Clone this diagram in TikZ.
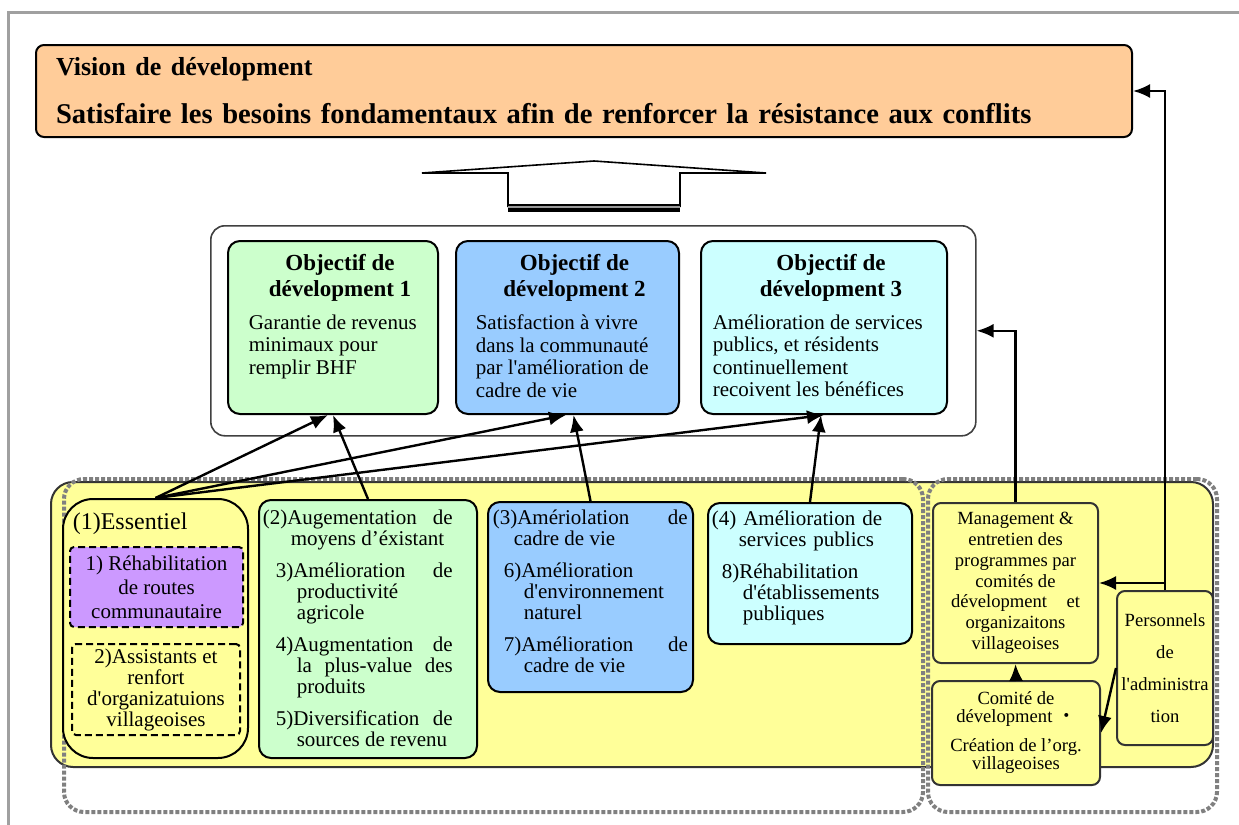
\documentclass[tikz,border=0pt]{standalone}
\usepackage{fontspec}
\setmainfont{Liberation Serif}[Ligatures=TeXOff]
\newfontfamily\cjkfont{Noto Sans CJK JP}
\usetikzlibrary{positioning,arrows.meta}

\definecolor{visionorange}{HTML}{FFCC99}
\definecolor{objgreen}{HTML}{CCFFCC}
\definecolor{objblue}{HTML}{99CCFF}
\definecolor{objcyan}{HTML}{CCFFFF}
\definecolor{baseyellow}{HTML}{FFFF99}
\definecolor{roadpurple}{HTML}{CC99FF}
\definecolor{dotgray}{HTML}{808080}
\definecolor{framegray}{HTML}{A0A0A0}

% one paragraph of a list: left skip, hanging indent, text
\newcommand{\hangitem}[3]{{\leftskip=#1\hangindent=#2\hangafter=1\noindent #3\par}}

\begin{document}
\begin{tikzpicture}[x=0.5pt, y=-0.5pt, thick,
    >={Latex[length=8.5pt,width=7pt]},
    link/.style={->, line width=1.2pt},
    dotframe/.style={draw=dotgray, line width=2pt, dash pattern=on 2pt off 1pt,
      rounded corners=10pt, anchor=north west, inner sep=0pt,
      minimum height=166.5pt},
    dashbox/.style={draw, line width=1pt, dash pattern=on 3.5pt off 2pt,
      rounded corners=2pt, anchor=north west, inner sep=0pt, align=center}]

    % `objbox' is used by every coloured box.
    % `objtitle' and `objbody' are the texts of the three objectives.
    % `itemtext' is used for the numbered lists at the bottom.
    \tikzstyle{objbox} = [draw, line width=1pt, rounded corners=6pt, anchor=north west, inner sep=0pt]
    \tikzstyle{objtitle} = [font=\bfseries\fontsize{11.5}{13}\selectfont, align=center, inner sep=0pt]
    \tikzstyle{objbody} = [font=\fontsize{10.5}{11.25}\selectfont, align=left, inner sep=0pt]
    \tikzstyle{itemtext} = [font=\fontsize{10.5}{10.5}\selectfont, inner sep=0pt, align=justify,
      execute at begin node={\setlength\parskip{5.5pt}\tolerance=10000\hbadness=10000}]
    \tikzstyle{smalltext} = [font=\fontsize{9.3}{10.4}\selectfont, align=center]
    %
    \useasboundingbox (0,0) rectangle (1239,825);
    \draw[framegray, line width=1.5pt] (8,825) -- (8,12) -- (1239,12);

    % Vision.
    \node[objbox, fill=visionorange, rounded corners=4pt, minimum width=548pt, minimum height=46pt,
      text width=528pt, inner xsep=10pt, align=left,
      font=\bfseries\fontsize{14.3}{16}\selectfont] (vision) at (35,44)
      {{\fontsize{13}{16}\selectfont Vision de dévelopment}\\[8pt]Satisfaire les besoins fondamentaux afin de renforcer la résistance aux conflits};

    % Big hollow arrow.
    \draw[line width=0.8pt, fill=white] (508,207) -- (508,173) -- (422,173) -- (594,161)
      -- (766,173) -- (680,173) -- (680,207);
    \draw[line width=4pt] (508,207.5) -- (680,207.5);
    \draw[black!40, line width=0.7pt] (508,207) -- (680,207);

    % Objectives.
    \node[objbox, draw=black!75, line width=0.8pt, rounded corners=7pt, fill=white,
      minimum width=382.5pt, minimum height=105pt] (objs) at (210,225) {};
    \node[objbox, fill=objgreen, minimum width=105pt, minimum height=86.5pt] (obj1) at (227,240) {};
    \node[objbox, fill=objblue, minimum width=111.5pt, minimum height=86.5pt] (obj2) at (455,240) {};
    \node[objbox, fill=objcyan, minimum width=123pt, minimum height=86.5pt] (obj3) at (700,240) {};
    \node[objtitle, below=7pt of obj1.north, xshift=3.5pt] (obj1title) {Objectif de\\dévelopment 1};
    \node[objtitle, below=7pt of obj2.north, xshift=3.5pt] (obj2title) {Objectif de\\dévelopment 2};
    \node[objtitle, below=7pt of obj3.north, xshift=3.5pt] (obj3title) {Objectif de\\dévelopment 3};
    \node[objbody, below right=37pt and 10.5pt of obj1.north west] (obj1body)
      {Garantie de revenus\\minimaux pour\\remplir BHF};
    \node[objbody, below right=37pt and 10pt of obj2.north west] (obj2body)
      {Satisfaction à vivre\\dans la communauté\\par l'amélioration de\\cadre de vie};
    \node[objbody, below right=37pt and 6pt of obj3.north west] (obj3body)
      {Amélioration de services\\publics, et résidents\\continuellement\\recoivent les bénéfices};

    % Programmes.
    \node[objbox, draw=black!80, rounded corners=11pt, fill=baseyellow,
      minimum width=581pt, minimum height=142.5pt] (base) at (50,481) {};
    \node[dotframe, minimum width=429.5pt] (grpleft) at (62,477) {};
    \node[dotframe, minimum width=144.5pt] (grpright) at (926,477) {};

    % First column.
    \node[objbox, rounded corners=15pt, fill=baseyellow, minimum width=92.5pt, minimum height=129.5pt] (ess) at (62,498) {};
    \node[inner sep=0pt, font=\fontsize{12}{14}\selectfont, below right=7pt and 5pt of ess.north west] (esstitle) {(1)Essentiel};
    \node[dashbox, fill=roadpurple, minimum width=86.5pt, minimum height=40pt,
      font=\fontsize{10.5}{12}\selectfont] (road) at (69,546)
      {1) Réhabilitation\\de routes\\communautaire};
    \node[dashbox, minimum width=84pt, minimum height=45.5pt,
      font=\fontsize{10.5}{10.5}\selectfont] (assist) at (71,643)
      {2)Assistants et\\renfort\\d'organizatuions\\villageoises};

    % Second to fourth column.
    \node[objbox, fill=objgreen, minimum width=109pt, minimum height=129pt] (grow) at (258,499) {};
    \node[objbox, fill=objblue, minimum width=102.5pt, minimum height=95pt] (life) at (487,501) {};
    \node[objbox, fill=objcyan, minimum width=102pt, minimum height=70.5pt] (serv) at (707,502) {};
    \node[itemtext, text width=95pt, below right=5pt and 2pt of grow.north west] (growtxt) {%
      \hangitem{0pt}{14pt}{(2)Augementation de\linebreak moyens d’éxistant}
      \hangitem{6.5pt}{10.5pt}{3)Amélioration de\linebreak productivité\newline agricole}
      \hangitem{6.5pt}{10.5pt}{4)Augmentation de\linebreak la plus-value des\linebreak produits}
      \hangitem{6.5pt}{10.5pt}{5)Diversification de\linebreak sources de revenu}};
    \node[itemtext, text width=97.5pt, below right=4pt and 2.5pt of life.north west] (lifetxt) {%
      \hangitem{0pt}{10.5pt}{(3)Amériolation de\linebreak cadre de vie}
      \hangitem{5.5pt}{10pt}{6)Amélioration\newline d'environnement\newline naturel}
      \hangitem{5.5pt}{10pt}{7)Amélioration de\linebreak cadre de vie}};
    \node[itemtext, align=left, text width=98pt, below right=4pt and 2pt of serv.north west] (servtxt) {%
      \hangitem{0pt}{13.5pt}{(4) Amélioration de\newline services publics}
      \hangitem{5pt}{10.5pt}{8)Réhabilitation\newline d'établissements\newline publiques}};

    % Right column.
    \node[objbox, draw=black!80, rounded corners=4pt, fill=baseyellow, smalltext,
      minimum width=82.5pt, minimum height=80pt] (mgmt) at (932,502)
      {Management \&\\entretien des\\programmes par\\comités de\\\makebox[64.5pt][s]{dévelopment\hfill et}\\organizaitons\\villageoises};
    \node[objbox, draw=black!80, rounded corners=4pt, fill=baseyellow, smalltext,
      font=\fontsize{9.3}{9}\selectfont, minimum width=84pt, minimum height=52pt] (comite) at (931,680)
      {Comité de\\dévelopment {\cjkfont ・}\\[5.5pt]Création de l’org.\\villageoises};
    \node[objbox, draw=black!80, rounded corners=4pt, fill=baseyellow, smalltext,
      font=\fontsize{9.3}{16}\selectfont, minimum width=48pt, minimum height=77pt] (pers) at (1116,590)
      {Personnels\\de\\l'administra\\tion};

    % Draw links.
    \draw[link] (ess.north) -- ([xshift=-2.5pt]obj1.south);
    \draw[link] (ess.north) -- ([xshift=-0.75pt]obj2.south);
    \draw[link] (ess.north) -- (obj3.south);
    \draw[link] (grow.north) -- (obj1.south);
    \draw[link] (life.north) -- ([xshift=3pt]obj2.south);
    \draw[link] (serv.north) -- ([xshift=-1.5pt]obj3.south);
    \draw[link] (comite.north) -- (mgmt.south);
    \draw[link] (mgmt.north) |- (objs.east);
    \draw[link] (pers.north) |- (mgmt.east);
    \draw[link] (pers.north) |- (vision.east);
    \draw[link] (pers.west) -- (comite.east);
    %
\end{tikzpicture}
\end{document}
